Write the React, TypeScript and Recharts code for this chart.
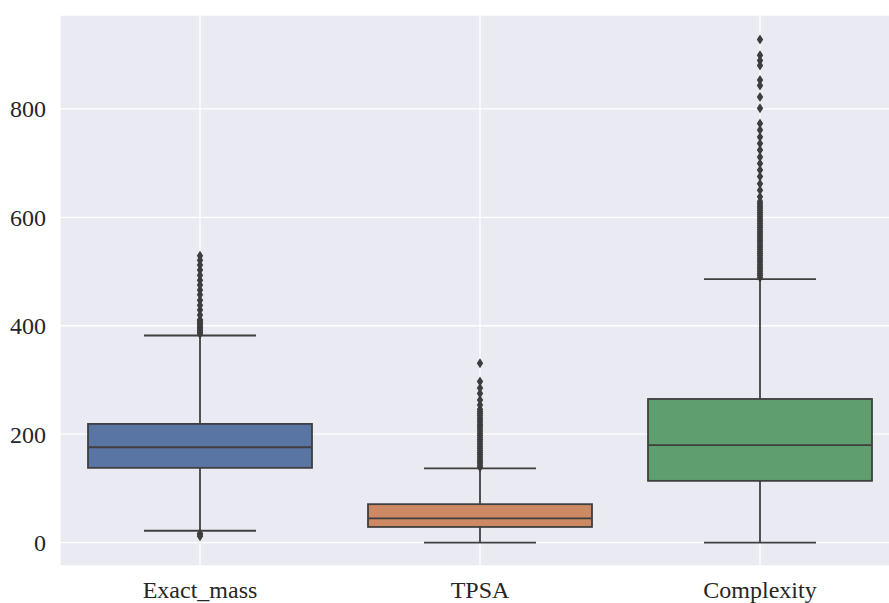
import React from 'react';
import { ComposedChart, Bar, Scatter, XAxis, YAxis, CartesianGrid } from 'recharts';

const categories = ['Exact_mass', 'TPSA', 'Complexity'];
const whiskerLow = [22, 0, 0];
const q1 = [138, 29, 114];
const median = [176, 45, 180];
const q3 = [219, 71, 265];
const whiskerHigh = [382, 137, 486];
const boxColors = ['#5875a4', '#cc8963', '#5f9e6e'];

const exactMassOutliers = [
  12, 15, 17, 385, 388, 391, 394, 397, 400, 403, 406, 409, 411, 420, 429, 438, 447, 457,
  466, 475, 484, 493, 503, 512, 521, 529,
];
const tpsaOutliers = [
  139, 143, 147, 150, 154, 158, 162, 166, 170, 174, 178, 182, 186, 190, 194, 198, 202, 206,
  210, 214, 218, 222, 226, 230, 234, 238, 242, 246, 254, 263, 275, 285, 297, 331,
];
const complexityOutliers = [
  489, 493, 497, 501, 505, 509, 513, 517, 521, 525, 529, 533, 537, 541, 545, 549, 553, 557,
  561, 565, 569, 573, 577, 581, 585, 589, 593, 597, 601, 605, 609, 613, 617, 621, 625, 629,
  638, 650, 662, 675, 687, 699, 711, 724, 736, 748, 761, 773, 801, 822, 843, 853, 880, 889,
  899, 928,
];
const yTicks = [0, 200, 400, 600, 800];

const boxData = categories.map((name, i) => ({
  name,
  lo: whiskerLow[i],
  q1: q1[i],
  med: median[i],
  q3: q3[i],
  hi: whiskerHigh[i],
}));

const outlierData = [
  ...exactMassOutliers.map((v) => ({ name: categories[0], v })),
  ...tpsaOutliers.map((v) => ({ name: categories[1], v })),
  ...complexityOutliers.map((v) => ({ name: categories[2], v })),
];

const LINE = '#3f3f3f';

// box + whiskers, positions of quartiles taken from the range bar geometry
const BoxShape = (props: any) => {
  const { x, y, width, height, payload, index } = props;
  const top = Math.min(y, y + height);
  const h = Math.abs(height);
  const { lo, hi } = payload;
  const toY = (v: number) => top + (h * (hi - v)) / (hi - lo);
  const cx = x + width / 2;
  const cap = width / 4;
  const yQ1 = toY(payload.q1);
  const yQ3 = toY(payload.q3);
  const yMed = toY(payload.med);
  return (
    <g>
      <line x1={cx} x2={cx} y1={top} y2={yQ3} stroke={LINE} strokeWidth={1.8} />
      <line x1={cx} x2={cx} y1={yQ1} y2={top + h} stroke={LINE} strokeWidth={1.8} />
      <line x1={cx - cap} x2={cx + cap} y1={top} y2={top} stroke={LINE} strokeWidth={1.8} />
      <line x1={cx - cap} x2={cx + cap} y1={top + h} y2={top + h} stroke={LINE} strokeWidth={1.8} />
      <rect x={x} y={yQ3} width={width} height={yQ1 - yQ3} fill={boxColors[index]} stroke={LINE} strokeWidth={1.8} />
      <line x1={x} x2={x + width} y1={yMed} y2={yMed} stroke={LINE} strokeWidth={1.8} />
    </g>
  );
};

const Diamond = (props: any) => {
  const { cx, cy } = props;
  if (cx == null || cy == null) return null;
  return <polygon points={`${cx},${cy - 5} ${cx + 3.2},${cy} ${cx},${cy + 5} ${cx - 3.2},${cy}`} fill="#3d3d3d" />;
};

export default function App() {
  const font = { fontFamily: '"Liberation Serif", serif', fontSize: 24, fill: '#262626' };
  return (
    <div style={{ position: 'absolute', left: 0, top: 0, width: 889, height: 603, overflow: 'hidden', background: '#fff' }}>
      <ComposedChart
        width={900}
        height={603}
        data={boxData}
        margin={{ top: 15, right: 0, bottom: 0, left: 0 }}
        barCategoryGap="10%"
      >
        <CartesianGrid fill="#eaeaf2" stroke="#ffffff" strokeWidth={1.3} />
        <XAxis
          dataKey="name"
          type="category"
          allowDuplicatedCategory={false}
          axisLine={false}
          tickLine={false}
          tickSize={0}
          tickMargin={15}
          height={37}
          tick={font}
        />
        <YAxis
          type="number"
          domain={[-43, 973]}
          ticks={yTicks}
          allowDataOverflow
          axisLine={false}
          tickLine={false}
          tickSize={0}
          tickMargin={14}
          width={60}
          tick={font}
        />
        <Bar
          dataKey={(d: any) => [d.lo, d.hi]}
          shape={BoxShape}
          isAnimationActive={false}
        />
        <Scatter data={outlierData} dataKey="v" shape={Diamond} isAnimationActive={false} />
      </ComposedChart>
    </div>
  );
}
